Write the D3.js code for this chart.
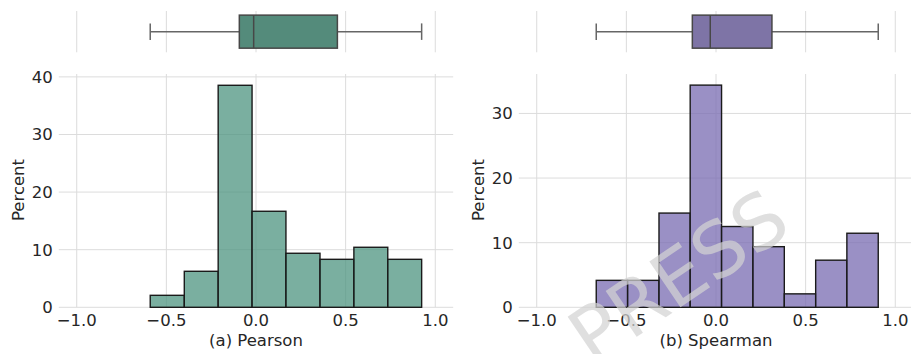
<!DOCTYPE html>
<html>
<head>
<meta charset="utf-8">
<script src="https://cdn.jsdelivr.net/npm/d3@7"></script>
<style>
  body { margin: 0; background: #fff; }
  svg text { font-family: "DejaVu Sans", sans-serif; fill: #262626; }
</style>
</head>
<body>
<svg id="chart" width="911" height="354"></svg>
<script>
// x ticks shared by both panels
var xTicks = [-1.0, -0.5, 0.0, 0.5, 1.0];

// (a) Pearson histogram: bin edges and percent per bin
var pearsonEdges = [-0.590, -0.400, -0.211, -0.022, 0.167, 0.357, 0.546, 0.735, 0.924];
var pearsonPct = [2.08, 6.25, 38.54, 16.67, 9.38, 8.33, 10.42, 8.33];
// min, q1, median, q3, max
var pearsonBox = [-0.590, -0.093, -0.013, 0.454, 0.924];
var pearsonYTicks = [0, 10, 20, 30, 40];

// (b) Spearman
var spearmanEdges = [-0.668, -0.493, -0.318, -0.144, 0.031, 0.206, 0.381, 0.556, 0.730, 0.905];
var spearmanPct = [4.17, 4.17, 14.58, 34.38, 12.50, 9.38, 2.08, 7.29, 11.46];
var spearmanBox = [-0.668, -0.132, -0.032, 0.312, 0.905];
var spearmanYTicks = [0, 10, 20, 30];

var svg = d3.select("#chart");
var gridColor = "#dcdcdc";
var fs = "16.5px";

function fmt(v) {
  return d3.format(".1f")(v).replace("-", "\u2212");
}

function drawPanel(p) {
  var x = d3.scaleLinear().domain([-1.1, 1.1]).range([p.left, p.left + 394.4]);
  var y = d3.scaleLinear().domain([0, p.yMax]).range([307.3, 74]);
  var by = d3.scaleLinear().domain([-0.5, 0.5]).range([52.3, 11]);

  var g = svg.append("g");

  // box plot gridlines
  g.selectAll(".bgrid").data(xTicks).enter().append("line")
    .attr("x1", x).attr("x2", x)
    .attr("y1", by(0.5)).attr("y2", by(-0.5))
    .attr("stroke", gridColor).attr("stroke-width", 1);

  // histogram gridlines
  g.selectAll(".vgrid").data(xTicks).enter().append("line")
    .attr("x1", x).attr("x2", x)
    .attr("y1", y(p.yMax)).attr("y2", y(0))
    .attr("stroke", gridColor).attr("stroke-width", 1);
  g.selectAll(".hgrid").data(p.yTicks).enter().append("line")
    .attr("x1", x.range()[0]).attr("x2", x.range()[1])
    .attr("y1", y).attr("y2", y)
    .attr("stroke", gridColor).attr("stroke-width", 1);

  // bars
  var bins = p.pct.map(function(v, i) {
    return { x0: p.edges[i], x1: p.edges[i + 1], v: v };
  });
  g.selectAll(".bar").data(bins).enter().append("rect")
    .attr("x", function(d) { return x(d.x0); })
    .attr("width", function(d) { return x(d.x1) - x(d.x0); })
    .attr("y", function(d) { return y(d.v); })
    .attr("height", function(d) { return y(0) - y(d.v); })
    .attr("fill", p.histColor).attr("fill-opacity", 0.75)
    .attr("stroke", "#1a1a1a").attr("stroke-width", 1.4);

  // box plot
  var b = p.box;
  var cy = by(0);
  g.append("line").attr("x1", x(b[0])).attr("x2", x(b[1])).attr("y1", cy).attr("y2", cy)
    .attr("stroke", "#666").attr("stroke-width", 1.5);
  g.append("line").attr("x1", x(b[3])).attr("x2", x(b[4])).attr("y1", cy).attr("y2", cy)
    .attr("stroke", "#666").attr("stroke-width", 1.5);
  [b[0], b[4]].forEach(function(v) {
    g.append("line").attr("x1", x(v)).attr("x2", x(v))
      .attr("y1", by(0.2)).attr("y2", by(-0.2))
      .attr("stroke", "#666").attr("stroke-width", 1.5);
  });
  g.append("rect")
    .attr("x", x(b[1])).attr("width", x(b[3]) - x(b[1]))
    .attr("y", by(0.4)).attr("height", by(-0.4) - by(0.4))
    .attr("fill", p.boxColor).attr("stroke", "#474747").attr("stroke-width", 1.5);
  g.append("line").attr("x1", x(b[2])).attr("x2", x(b[2]))
    .attr("y1", by(0.4)).attr("y2", by(-0.4))
    .attr("stroke", "#474747").attr("stroke-width", 1.5);

  // tick labels
  g.selectAll(".xt").data(xTicks).enter().append("text")
    .attr("x", x).attr("y", 326)
    .attr("text-anchor", "middle").style("font-size", fs)
    .text(fmt);
  g.selectAll(".yt").data(p.yTicks).enter().append("text")
    .attr("x", x.range()[0] - 6).attr("y", y).attr("dy", "0.36em")
    .attr("text-anchor", "end").style("font-size", fs)
    .text(function(d) { return d; });

  // axis labels
  g.append("text")
    .attr("transform", "translate(" + (p.left - 41) + ",190) rotate(-90)")
    .attr("text-anchor", "middle").attr("dy", "0.36em").style("font-size", fs)
    .text("Percent");
  g.append("text")
    .attr("x", x(0)).attr("y", 346)
    .attr("text-anchor", "middle").style("font-size", fs)
    .text(p.label);
}

drawPanel({
  left: 58.8, yMax: 40.5, yTicks: pearsonYTicks,
  edges: pearsonEdges, pct: pearsonPct, box: pearsonBox,
  histColor: "#4e9480", boxColor: "#548b7b", label: "(a) Pearson"
});
drawPanel({
  left: 518.8, yMax: 36.1, yTicks: spearmanYTicks,
  edges: spearmanEdges, pct: spearmanPct, box: spearmanBox,
  histColor: "#786bb2", boxColor: "#7e74a6", label: "(b) Spearman"
});

// watermark
svg.append("text")
  .attr("transform", "translate(678,276) rotate(-34)")
  .attr("text-anchor", "middle").attr("dy", "0.36em")
  .style("font-size", "76px").style("fill", "#d2d2d2").style("fill-opacity", 0.72)
  .text("PRESS");
</script>
</body>
</html>
